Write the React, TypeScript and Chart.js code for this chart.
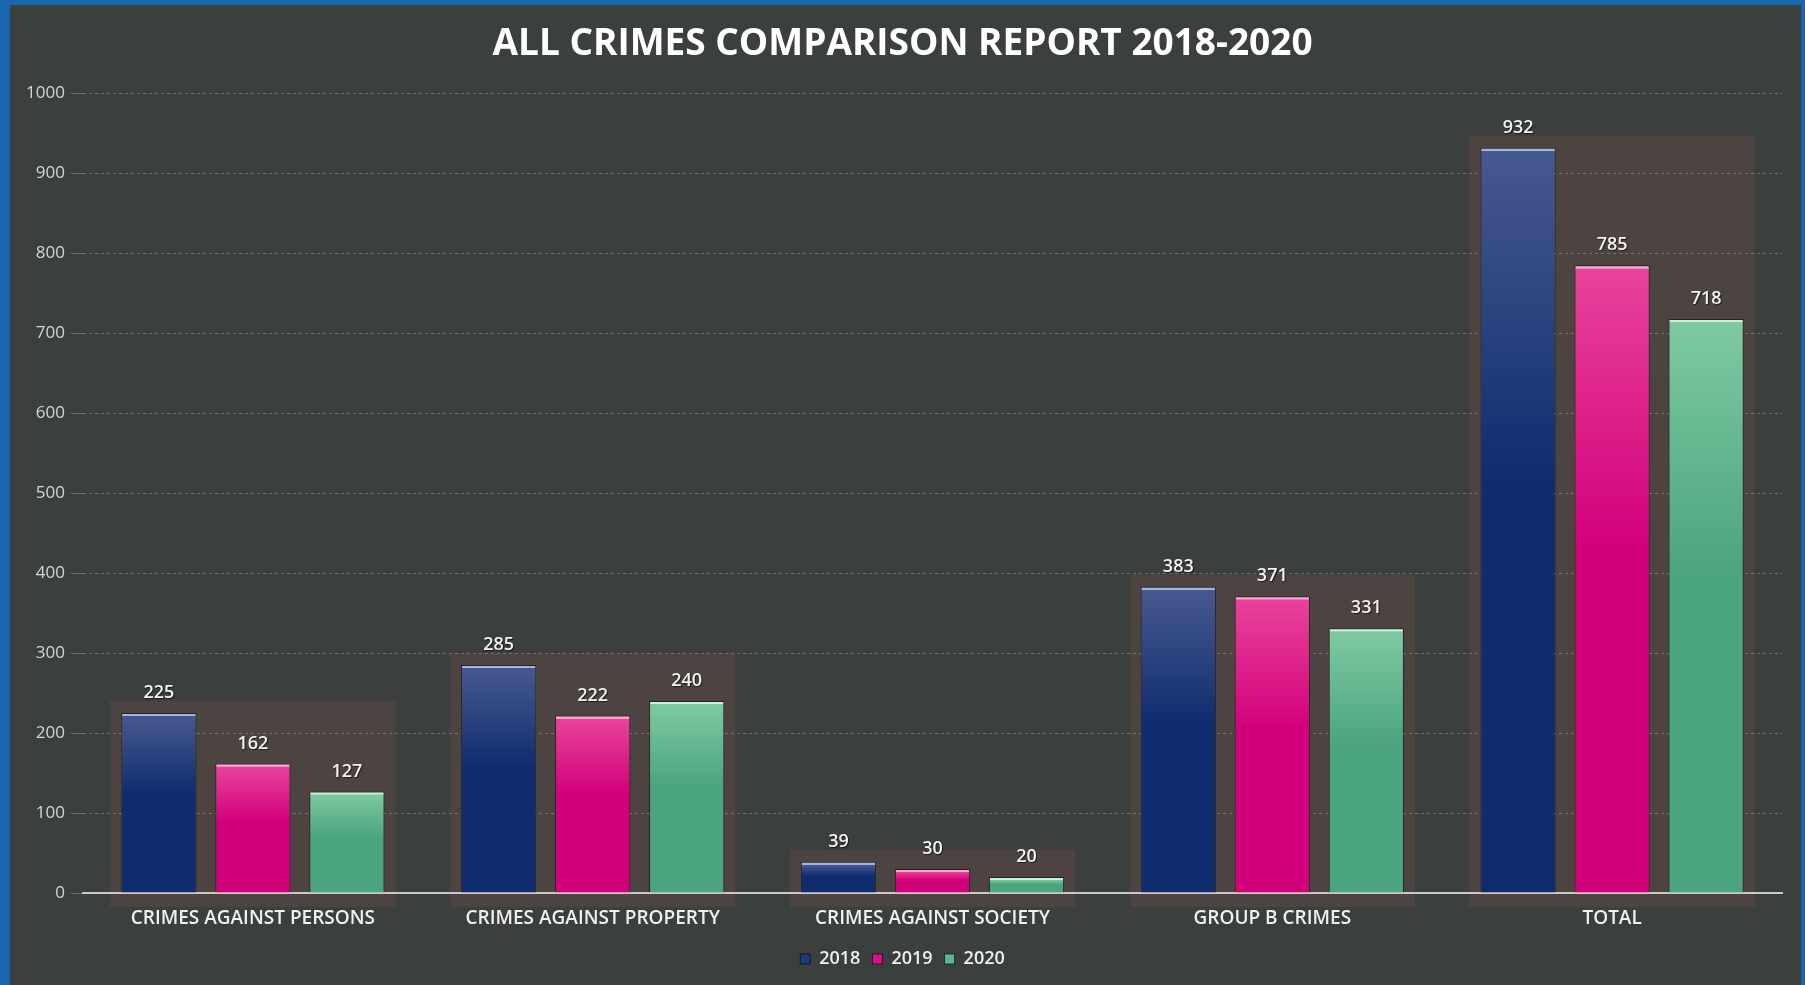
import React, { useEffect, useRef } from "react";
import { Chart, registerables } from "chart.js";

Chart.register(...registerables);

const categories = [
  "CRIMES AGAINST PERSONS",
  "CRIMES AGAINST PROPERTY",
  "CRIMES AGAINST SOCIETY",
  "GROUP B CRIMES",
  "TOTAL",
];
const values2018 = [225, 285, 39, 383, 932];
const values2019 = [162, 222, 30, 371, 785];
const values2020 = [127, 240, 20, 331, 718];
const seriesLabels = ["2018", "2019", "2020"];
const titleText = "ALL CRIMES COMPARISON REPORT 2018-2020";

const FONT = "'Open Sans', 'DejaVu Sans', sans-serif";

const palettes = [
  { top: "#9fb3e6", upper: "#46598f", lower: "#0f2c6f", solid: "#1d3a7c" },
  { top: "#f7a6cf", upper: "#e8439b", lower: "#d2007b", solid: "#d8108a" },
  { top: "#c9f0dc", upper: "#7ec9a2", lower: "#4aa47d", solid: "#5db68e" },
];

function barFill(idx: number) {
  const p = palettes[idx];
  return (ctx: any) => {
    const chart = ctx.chart;
    const area = chart.chartArea;
    if (!area || ctx.dataIndex === undefined || ctx.type !== "data") return p.solid;
    const y = chart.scales.y;
    const v = ctx.raw as number;
    const top = y.getPixelForValue(v);
    const bottom = y.getPixelForValue(0);
    const h = Math.max(bottom - top, 4);
    const g = chart.ctx.createLinearGradient(0, top, 0, bottom);
    const hl = Math.min(3 / h, 0.3);
    g.addColorStop(0, p.top);
    g.addColorStop(hl, p.top);
    g.addColorStop(Math.min(hl + 0.001, 1), p.upper);
    g.addColorStop(0.45, p.lower);
    g.addColorStop(1, p.lower);
    return g;
  };
}

const backgroundPlugin = {
  id: "bgPlugin",
  beforeDraw(chart: any) {
    const { ctx, width, height } = chart;
    ctx.save();
    ctx.fillStyle = "#3b3f3d";
    ctx.fillRect(0, 0, width, height);
    // blue frame
    ctx.fillStyle = "#1766ae";
    ctx.fillRect(0, 0, 10, height);
    ctx.fillRect(0, 0, width, 5);
    ctx.fillRect(width - 4, 0, 4, height);
    // group backdrop boxes
    const y0 = chart.scales.y.getPixelForValue(0);
    const n = chart.data.labels.length;
    for (let i = 0; i < n; i++) {
      let minX = Infinity, maxX = -Infinity, minY = Infinity;
      chart.data.datasets.forEach((_: any, d: number) => {
        const el: any = chart.getDatasetMeta(d).data[i];
        if (!el) return;
        minX = Math.min(minX, el.x - el.width / 2);
        maxX = Math.max(maxX, el.x + el.width / 2);
        minY = Math.min(minY, el.y);
      });
      if (!isFinite(minX)) continue;
      ctx.fillStyle = "#4d4441";
      ctx.fillRect(minX - 11, minY - 12, maxX - minX + 22, y0 - minY + 12 + 14);
    }
    ctx.restore();
  },
};

const valueLabelPlugin = {
  id: "valueLabels",
  afterDatasetsDraw(chart: any) {
    const { ctx } = chart;
    ctx.save();
    ctx.font = `600 18px ${FONT}`;
    ctx.fillStyle = "#f2f2f2";
    ctx.textAlign = "center";
    ctx.textBaseline = "middle";
    ctx.shadowColor = "rgba(0,0,0,0.6)";
    ctx.shadowOffsetX = 1;
    ctx.shadowOffsetY = 1;
    ctx.shadowBlur = 1;
    chart.data.datasets.forEach((ds: any, d: number) => {
      chart.getDatasetMeta(d).data.forEach((el: any, i: number) => {
        ctx.fillText(String(ds.data[i]), el.x, el.y - 20);
      });
    });
    ctx.restore();
  },
};

export default function App() {
  const ref = useRef<HTMLCanvasElement | null>(null);
  useEffect(() => {
    document.body.style.margin = "0";
    if (!ref.current) return;
    const seriesData = [values2018, values2019, values2020];
    const chart = new Chart(ref.current, {
      type: "bar",
      data: {
        labels: categories,
        datasets: seriesData.map((vals, idx) => ({
          label: seriesLabels[idx],
          data: vals,
          backgroundColor: barFill(idx),
          borderColor: "rgba(10,10,10,0.55)",
          borderWidth: 1,
          barPercentage: 0.8,
          categoryPercentage: 0.83,
        })),
      },
      options: {
        responsive: false,
        animation: false,
        devicePixelRatio: 1,
        layout: { padding: { left: 0, right: 0, top: 0, bottom: 7 } },
        plugins: {
          title: {
            display: true,
            text: titleText,
            color: "#ffffff",
            font: { family: FONT, size: 37, weight: "bold" },
            padding: { top: 22, bottom: 27 },
          },
          legend: {
            display: true,
            position: "bottom",
            labels: {
              color: "#f0f0f0",
              font: { family: FONT, size: 18, weight: "600" },
              boxWidth: 10,
              boxHeight: 10,
              padding: 12,
              generateLabels: (chart: any) =>
                chart.data.datasets.map((ds: any, i: number) => ({
                  text: ds.label,
                  fillStyle: palettes[i].solid,
                  strokeStyle: "rgba(0,0,0,0.6)",
                  lineWidth: 1,
                  fontColor: "#f0f0f0",
                  datasetIndex: i,
                  hidden: false,
                })),
            },
          },
          tooltip: { enabled: false },
        },
        scales: {
          x: {
            grid: { display: false, drawTicks: false },
            border: { display: true, color: "#c9c9c9", width: 2 },
            ticks: {
              color: "#f0f0f0",
              font: { family: FONT, size: 19, weight: "600" },
              padding: 14,
              maxRotation: 0,
              autoSkip: false,
            },
            afterFit: (scale: any) => {
              scale.height = 45;
            },
          },
          y: {
            min: 0,
            max: 1000,
            grid: {
              color: "rgba(200,200,200,0.35)",
              lineWidth: 1,
              tickLength: 12,
              drawTicks: true,
            },
            border: { display: false, dash: [3, 3] },
            ticks: {
              stepSize: 100,
              color: "#d6d6d6",
              font: { family: FONT, size: 17 },
              padding: 6,
              callback: (v: any) => String(v),
            },
            afterFit: (scale: any) => {
              scale.width = 83;
            },
          },
          yRightSpacer: {
            position: "right",
            display: true,
            min: 0,
            max: 1000,
            grid: { display: false, drawTicks: false },
            border: { display: false },
            ticks: { display: false },
            afterFit: (scale: any) => {
              scale.width = 23;
            },
          },
        },
      },
      plugins: [backgroundPlugin, valueLabelPlugin],
    });
    return () => chart.destroy();
  }, []);
  return (
    <div style={{ position: "fixed", left: 0, top: 0, width: 1805, height: 985 }}>
      <canvas ref={ref} width={1805} height={985} />
    </div>
  );
}
